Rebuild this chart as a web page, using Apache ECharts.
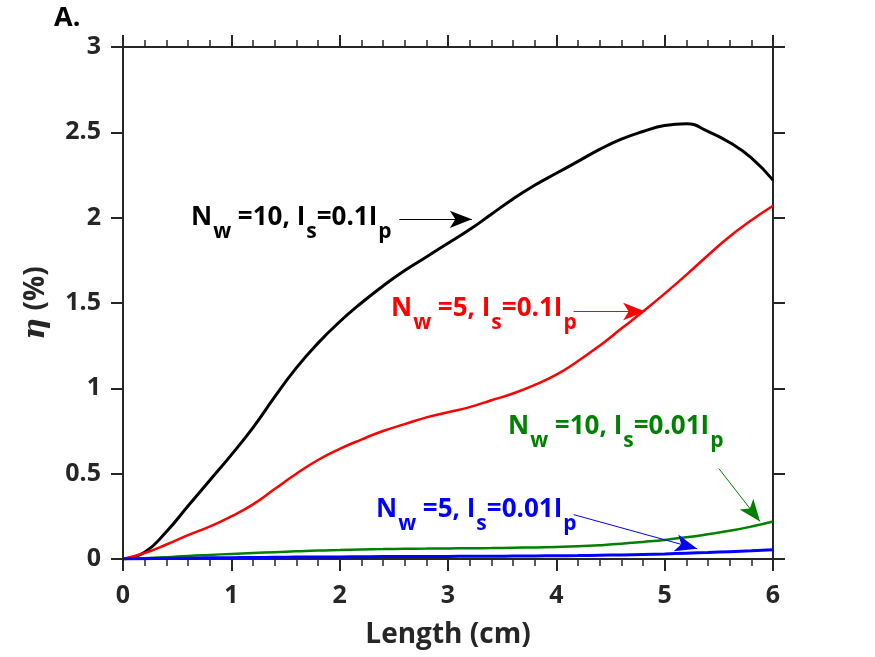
<!DOCTYPE html>
<html><head><meta charset="utf-8">
<script src="https://cdn.jsdelivr.net/npm/echarts@6/dist/echarts.min.js"></script>
<style>html,body{margin:0;padding:0;background:#fff}#c{width:875px;height:657px}</style>
</head><body><div id="c"></div>
<script>
var lengthCm = [0,0.2,0.4,0.6,0.8,1.0,1.2,1.4,1.6,1.8,2.0,2.2,2.4,2.6,2.8,3.0,3.2,3.4,3.6,3.8,4.0,4.2,4.4,4.6,4.8,5.0,5.2,5.4,5.6,5.8,6.0];
var etaNw10Is01 = [0,0.04,0.16,0.31,0.46,0.61,0.77,0.95,1.12,1.265,1.39,1.50,1.60,1.69,1.77,1.85,1.93,2.02,2.11,2.19,2.26,2.33,2.40,2.46,2.505,2.54,2.55,2.505,2.44,2.35,2.22];
var etaNw5Is01 = [0,0.035,0.085,0.14,0.19,0.25,0.32,0.41,0.50,0.58,0.645,0.70,0.75,0.79,0.83,0.86,0.89,0.93,0.97,1.02,1.08,1.16,1.25,1.35,1.45,1.555,1.665,1.78,1.89,1.985,2.07];
var etaNw10Is001 = [0,0.005,0.01,0.018,0.024,0.03,0.035,0.04,0.045,0.05,0.053,0.056,0.058,0.06,0.061,0.062,0.063,0.064,0.066,0.068,0.071,0.075,0.081,0.089,0.1,0.112,0.127,0.145,0.165,0.19,0.22];
var etaNw5Is001 = [0,0.002,0.004,0.005,0.007,0.008,0.009,0.01,0.011,0.012,0.012,0.013,0.014,0.014,0.015,0.015,0.016,0.016,0.017,0.018,0.019,0.02,0.022,0.024,0.027,0.03,0.034,0.038,0.043,0.048,0.054];
var xTicks = [0,1,2,3,4,5,6];
var yTicks = [0,0.5,1,1.5,2,2.5,3];

function pairs(ys){return lengthCm.map(function(x,i){return [x,ys[i]];});}
var axisCol = '#262626';
var FONT = 'Open Sans';

function arrowLine(color, from, to){
  return {silent:true, symbol:['none','arrow'], symbolSize:[13,22],
    lineStyle:{color:color,width:1,type:'solid'}, label:{show:false},
    data:[[{coord:from},{coord:to}]]};
}
function lbl(color){
  return {
    n:{fontFamily:FONT,fontWeight:'bold',fontSize:26,fill:color,lineHeight:30,verticalAlign:'top'},
    s:{fontFamily:FONT,fontWeight:'bold',fontSize:21,fill:color,lineHeight:26,verticalAlign:'top',padding:[17,0,0,1]}
  };
}
function textEl(left, top, str, color){
  return {type:'text', left:left, top:top, style:{text:str, rich:lbl(color), fill:color, font:'bold 26px "Open Sans"'}};
}
function sideAxis(extra){
  var base = {
    type:'value',
    axisLine:{show:true,onZero:false,lineStyle:{color:axisCol,width:2}},
    axisTick:{show:true,inside:false,length:12,lineStyle:{color:axisCol,width:2}},
    splitLine:{show:false}
  };
  for (var k in extra) base[k]=extra[k];
  return base;
}

var chart = echarts.init(document.getElementById('c'));
chart.setOption({
  animation:false,
  backgroundColor:'#fff',
  grid:{left:123,right:102,top:47,bottom:98},
  xAxis:[
    sideAxis({min:0,max:6,interval:1,position:'bottom',
      name:'Length (cm)',nameLocation:'middle',nameGap:62,
      nameTextStyle:{fontFamily:FONT,fontWeight:'bold',fontSize:28,color:axisCol},
      minorTick:{show:true,splitNumber:5,length:7,lineStyle:{color:axisCol,width:1.5}},
      axisLabel:{fontFamily:FONT,fontWeight:'bold',fontSize:25,color:axisCol,margin:24,
        formatter:function(v){return xTicks.indexOf(v)>=0?String(v):'';}}}),
    sideAxis({min:0,max:6,interval:1,position:'top',
      minorTick:{show:true,splitNumber:5,length:7,lineStyle:{color:axisCol,width:1.5}},
      axisLabel:{show:false}})
  ],
  yAxis:[
    sideAxis({min:0,max:3,interval:0.5,position:'left',
      name:'{i|η} (%)',nameLocation:'middle',nameGap:72,nameRotate:90,
      nameTextStyle:{fontFamily:FONT,fontWeight:'bold',fontSize:28,color:axisCol,
        rich:{i:{fontFamily:'DejaVu Serif',fontStyle:'italic',fontSize:30,color:axisCol}}},
      axisLabel:{fontFamily:FONT,fontWeight:'bold',fontSize:25,color:axisCol,margin:22,
        formatter:function(v){return yTicks.indexOf(v)>=0?String(v):'';}}}),
    sideAxis({min:0,max:3,interval:0.5,position:'right',axisLabel:{show:false}})
  ],
  series:[
    {name:'Nw=10, Is=0.1Ip',type:'line',data:pairs(etaNw10Is01),smooth:0.5,showSymbol:false,
      lineStyle:{color:'#000000',width:3},itemStyle:{color:'#000000'},
      markLine:arrowLine('#000000',[2.55,1.99],[3.22,1.99])},
    {name:'Nw=5, Is=0.1Ip',type:'line',data:pairs(etaNw5Is01),smooth:0.5,showSymbol:false,
      lineStyle:{color:'#ff0000',width:2.5},itemStyle:{color:'#ff0000'},
      markLine:arrowLine('#ff0000',[4.16,1.45],[4.82,1.45])},
    {name:'Nw=10, Is=0.01Ip',type:'line',data:pairs(etaNw10Is001),smooth:0.5,showSymbol:false,
      lineStyle:{color:'#008000',width:2.5},itemStyle:{color:'#008000'},
      markLine:arrowLine('#008000',[5.5,0.53],[5.88,0.22])},
    {name:'Nw=5, Is=0.01Ip',type:'line',data:pairs(etaNw5Is001),smooth:0.5,showSymbol:false,
      lineStyle:{color:'#0000ff',width:3},itemStyle:{color:'#0000ff'},
      markLine:arrowLine('#0000ff',[4.16,0.26],[5.3,0.06])}
  ],
  graphic:[
    {type:'text',left:54,top:5,style:{text:'A.',font:'bold 27px "Open Sans"',fill:'#000'}},
    textEl(191,205,'{n|N}{s|w}{n| =10, I}{s|s}{n|=0.1I}{s|p}','#000000'),
    textEl(391,296,'{n|N}{s|w}{n| =5, I}{s|s}{n|=0.1I}{s|p}','#ff0000'),
    textEl(508,414,'{n|N}{s|w}{n| =10, I}{s|s}{n|=0.01I}{s|p}','#008000'),
    textEl(376,497,'{n|N}{s|w}{n| =5, I}{s|s}{n|=0.01I}{s|p}','#0000ff')
  ]
});
</script></body></html>
